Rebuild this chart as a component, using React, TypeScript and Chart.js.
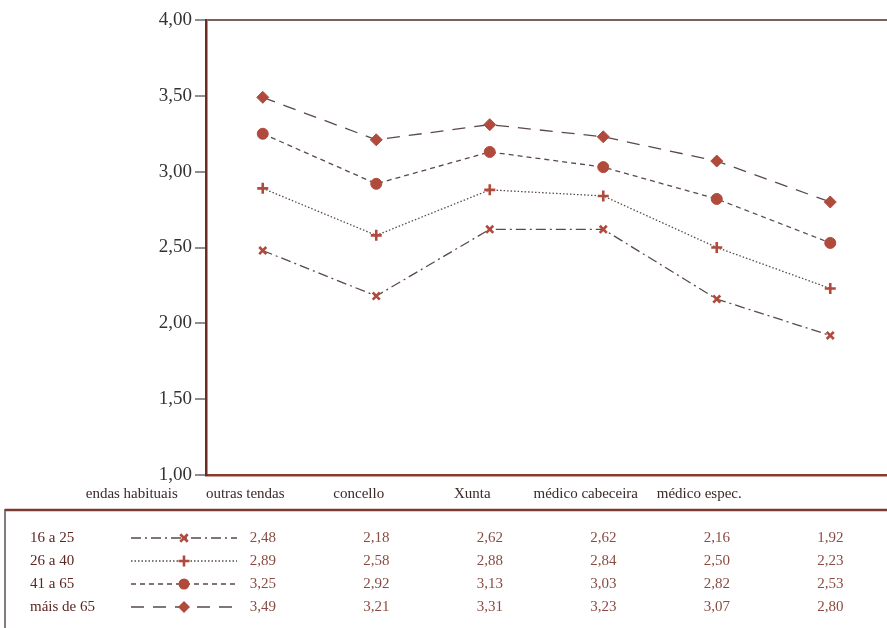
import React, { useEffect, useRef } from 'react';
import { Chart, registerables } from 'chart.js';

Chart.register(...registerables);

const categories = ['endas habituais', 'outras tendas', 'concello', 'Xunta', 'médico cabeceira', 'médico espec.'];
const seriesNames = ['16 a 25', '26 a 40', '41 a 65', 'máis de 65'];
const s16a25 = [2.48, 2.18, 2.62, 2.62, 2.16, 1.92];
const s26a40 = [2.89, 2.58, 2.88, 2.84, 2.5, 2.23];
const s41a65 = [3.25, 2.92, 3.13, 3.03, 2.82, 2.53];
const sMais65 = [3.49, 3.21, 3.31, 3.23, 3.07, 2.8];
const seriesValues = [s16a25, s26a40, s41a65, sMais65];
const yMin = 1;
const yMax = 4;
const yStep = 0.5;

const FONT = "'Liberation Serif', 'DejaVu Serif', serif";
const MARKER = '#b04a3c';
const LINE = '#5a4a48';

const styles = [
  { dash: [10, 4, 2, 4], point: 'crossRot', r: 5, bw: 2.6 },
  { dash: [1.5, 2], point: 'cross', r: 5.5, bw: 2.6 },
  { dash: [5, 4], point: 'circle', r: 5.5, bw: 1 },
  { dash: [13, 9], point: 'rectRot', r: 6, bw: 1 },
];

const fmt = (v: number) => v.toFixed(2).replace('.', ',');

function drawMarker(ctx: CanvasRenderingContext2D, style: string, x: number, y: number, r: number) {
  ctx.save();
  ctx.setLineDash([]);
  ctx.fillStyle = MARKER;
  ctx.strokeStyle = MARKER;
  ctx.lineWidth = 2.6;
  ctx.beginPath();
  if (style === 'circle') {
    ctx.arc(x, y, r, 0, Math.PI * 2);
    ctx.fill();
  } else if (style === 'rectRot') {
    ctx.moveTo(x, y - r);
    ctx.lineTo(x + r, y);
    ctx.lineTo(x, y + r);
    ctx.lineTo(x - r, y);
    ctx.closePath();
    ctx.fill();
  } else if (style === 'cross') {
    ctx.moveTo(x - r, y);
    ctx.lineTo(x + r, y);
    ctx.moveTo(x, y - r);
    ctx.lineTo(x, y + r);
    ctx.stroke();
  } else {
    const d = r * 0.75;
    ctx.moveTo(x - d, y - d);
    ctx.lineTo(x + d, y + d);
    ctx.moveTo(x + d, y - d);
    ctx.lineTo(x - d, y + d);
    ctx.stroke();
  }
  ctx.restore();
}

const tablePlugin = {
  id: 'dataTable',
  afterDraw(chart: any) {
    const ctx: CanvasRenderingContext2D = chart.ctx;
    const xs = chart.scales.x;
    const rowY = [538, 561, 584, 607];
    ctx.save();
    ctx.strokeStyle = '#7a3a32';
    ctx.lineWidth = 2.5;
    ctx.beginPath();
    ctx.moveTo(5, 510);
    ctx.lineTo(887, 510);
    ctx.stroke();
    ctx.strokeStyle = '#5a5050';
    ctx.lineWidth = 1.5;
    ctx.beginPath();
    ctx.moveTo(5, 509);
    ctx.lineTo(5, 628);
    ctx.stroke();

    seriesNames.forEach((name, si) => {
      const y = rowY[si];
      const st = styles[si];
      ctx.font = `15px ${FONT}`;
      ctx.textBaseline = 'middle';
      ctx.textAlign = 'left';
      ctx.fillStyle = '#5c2622';
      ctx.fillText(name, 30, y);
      ctx.save();
      ctx.strokeStyle = LINE;
      ctx.lineWidth = 1.3;
      ctx.setLineDash(st.dash);
      ctx.beginPath();
      ctx.moveTo(131, y);
      ctx.lineTo(237, y);
      ctx.stroke();
      ctx.restore();
      drawMarker(ctx, st.point, 184, y, st.r);
      ctx.font = `15px ${FONT}`;
      ctx.textAlign = 'center';
      ctx.fillStyle = '#8a4c42';
      seriesValues[si].forEach((v, i) => {
        ctx.fillText(fmt(v), xs.getPixelForValue(i), y);
      });
    });
    ctx.restore();
  },
};

export default function App() {
  const ref = useRef<HTMLCanvasElement>(null);
  useEffect(() => {
    document.body.style.margin = '0';
    const chart = new Chart(ref.current as HTMLCanvasElement, {
      type: 'line',
      data: {
        labels: categories,
        datasets: seriesNames.map((name, i) => ({
          label: name,
          data: seriesValues[i],
          borderColor: LINE,
          borderWidth: 1.3,
          borderDash: styles[i].dash,
          tension: 0,
          fill: false,
          pointStyle: styles[i].point as any,
          pointRadius: styles[i].r,
          pointBorderWidth: styles[i].bw,
          pointBackgroundColor: MARKER,
          pointBorderColor: MARKER,
        })),
      },
      options: {
        responsive: false,
        animation: false,
        layout: { autoPadding: false, padding: { top: 20, right: -6, bottom: 123, left: 0 } },
        plugins: { legend: { display: false }, tooltip: { enabled: false } },
        scales: {
          x: {
            type: 'category',
            offset: true,
            afterFit: (s: any) => { s.height = 30; s.paddingRight = 0; s.paddingLeft = 0; },
            grid: { display: false, drawTicks: false },
            border: { display: true, color: '#8b3a30', width: 2.5 },
            ticks: {
              autoSkip: false,
              maxRotation: 0,
              padding: 10,
              labelOffset: -131,
              color: '#3a2a28',
              font: { family: FONT, size: 15 },
            },
          },
          y: {
            min: yMin,
            max: yMax,
            afterFit: (s: any) => { s.width = 206; },
            grid: {
              drawOnChartArea: true,
              color: (c: any) => (c.tick && c.tick.value === yMax ? '#7a6058' : 'rgba(0,0,0,0)'),
              lineWidth: 2,
              tickColor: '#444',
              tickLength: 11,
              tickWidth: 1.2,
            },
            border: { display: true, color: '#6b2a22', width: 2.5 },
            ticks: {
              stepSize: yStep,
              padding: 3,
              color: '#333',
              font: { family: FONT, size: 19 },
              callback: (v: any) => fmt(Number(v)),
            },
          },
        },
      },
      plugins: [tablePlugin],
    });
    return () => chart.destroy();
  }, []);
  return (
    <div style={{ position: 'absolute', left: 0, top: 0, width: 887, height: 628, background: '#fff' }}>
      <canvas ref={ref} width={887} height={628} />
    </div>
  );
}
